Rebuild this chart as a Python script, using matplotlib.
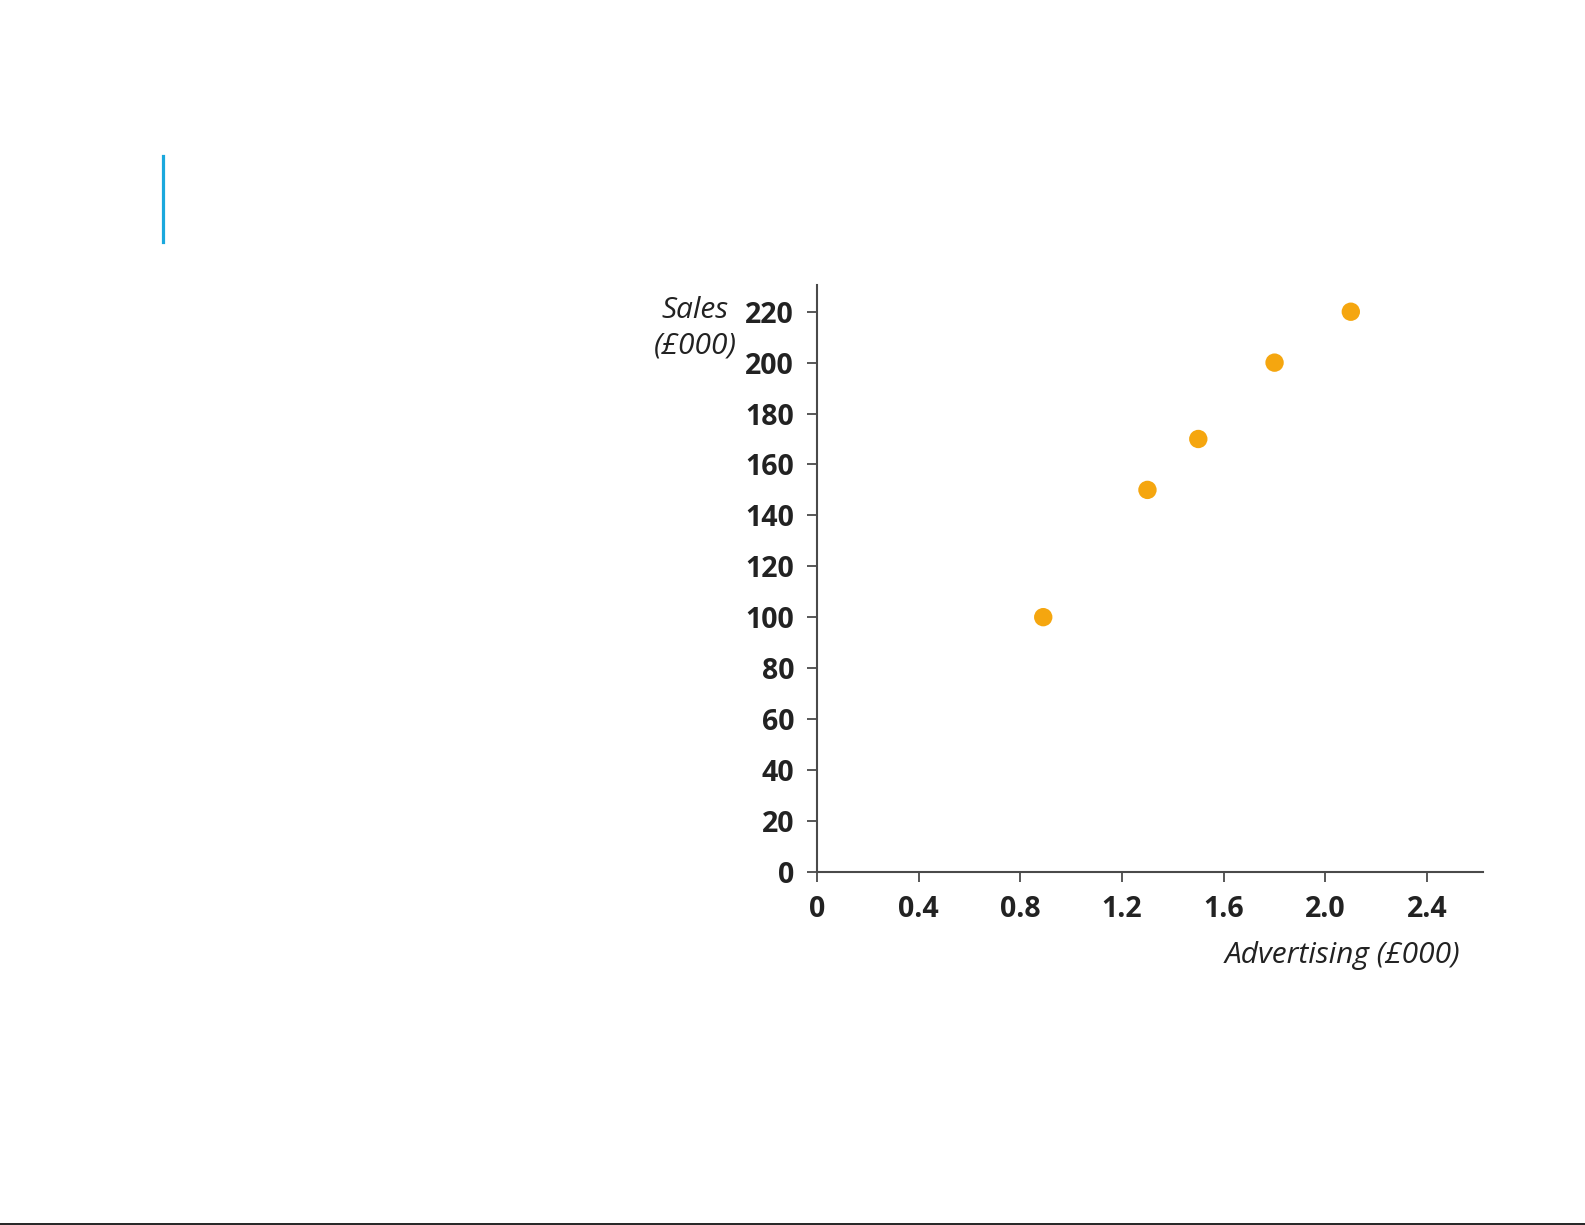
import matplotlib.pyplot as plt
from matplotlib.lines import Line2D

# data
advertising = [0.89, 1.3, 1.5, 1.8, 2.1]
sales = [100, 150, 170, 200, 220]
x_ticks = [0, 0.4, 0.8, 1.2, 1.6, 2.0, 2.4]
x_tick_labels = ["0", "0.4", "0.8", "1.2", "1.6", "2.0", "2.4"]
y_ticks = list(range(0, 221, 20))

W, H = 1585, 1225
fig = plt.figure(figsize=(W / 100, H / 100), dpi=100)

axis_color = "#4a4a4a"
point_color = "#F5A60F"
font = ["Open Sans", "DejaVu Sans"]

# axes placed to match the reference pixel box
left, right = 817, 1483
bottom, top = 871.7, 285
ax = fig.add_axes([left / W, 1 - bottom / H, (right - left) / W, (bottom - top) / H])

ax.scatter(advertising, sales, s=175, color=point_color, edgecolors="none", zorder=3, clip_on=False)

ax.set_xlim(0, 2.62)
ax.set_ylim(0, 230.5)

ax.set_xticks(x_ticks)
ax.set_xticklabels(x_tick_labels)
ax.set_yticks(y_ticks)

for spine in ["top", "right"]:
    ax.spines[spine].set_visible(False)
for spine in ["left", "bottom"]:
    ax.spines[spine].set_color(axis_color)
    ax.spines[spine].set_linewidth(1.5)

ax.tick_params(axis="both", direction="out", length=7.5, width=1.3, color=axis_color,
               labelsize=20.5, labelcolor="#222222")
ax.tick_params(axis="y", pad=9)
ax.tick_params(axis="x", pad=9)
for lbl in ax.get_xticklabels() + ax.get_yticklabels():
    lbl.set_family(font)
    lbl.set_fontweight("bold")

# axis titles in italic, positioned like the reference
fig.text(737 / W, 1 - 296 / H, "Sales\n(£000)", ha="right", va="top", fontsize=21.5,
         style="italic", family=font, color="#222222", multialignment="center", linespacing=1.3)
fig.text(1460 / W, 1 - 955 / H, "Advertising (£000)", ha="right", va="center", fontsize=21.5,
         style="italic", family=font, color="#222222")

# blue accent bar at top left and thin rule at the bottom edge
fig.add_artist(Line2D([162.5 / W, 162.5 / W], [1 - 156 / H, 1 - 242 / H], color="#1AA8DD", linewidth=2.3))
fig.add_artist(Line2D([0, 1], [1.0 / H, 1.0 / H], color="black", linewidth=1.2))

fig.savefig("out.png", dpi=100)
